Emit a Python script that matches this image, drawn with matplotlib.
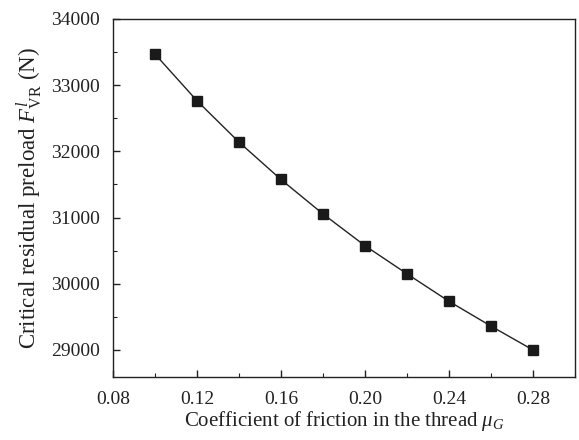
import matplotlib
matplotlib.use("Agg")
import matplotlib.pyplot as plt
from matplotlib.ticker import MultipleLocator

mu_g = [0.10, 0.12, 0.14, 0.16, 0.18, 0.20, 0.22, 0.24, 0.26, 0.28]
f_vr = [33470, 32765, 32140, 31575, 31055, 30575, 30150, 29735, 29360, 29000]
x_ticks = [0.08, 0.12, 0.16, 0.20, 0.24, 0.28]
x_tick_labels = ["0.08", "0.12", "0.16", "0.20", "0.24", "0.28"]
y_ticks = [29000, 30000, 31000, 32000, 33000, 34000]

plt.rcParams['font.family'] = ['Liberation Serif', 'DejaVu Serif']
plt.rcParams['mathtext.fontset'] = 'custom'
plt.rcParams['mathtext.rm'] = 'Liberation Serif'
plt.rcParams['mathtext.it'] = 'Liberation Serif:italic'

fig = plt.figure(figsize=(5.79, 4.40), dpi=100)
ax = fig.add_axes([0.195, 0.143, 0.798, 0.814])

ax.plot(mu_g, f_vr, color='#222222', linewidth=1.0, marker='s', markersize=6.8,
        markerfacecolor='#1a1a1a', markeredgecolor='#1a1a1a')

ax.set_xlim(0.08, 0.30)
ax.set_ylim(28590, 34000)
ax.set_xticks(x_ticks)
ax.set_xticklabels(x_tick_labels)
ax.set_yticks(y_ticks)
ax.xaxis.set_minor_locator(MultipleLocator(0.02))
ax.yaxis.set_minor_locator(MultipleLocator(500))
ax.tick_params(which='both', direction='in', top=False, right=False, labelsize=14, colors='#222222')
ax.tick_params(which='major', length=5, width=1)
ax.tick_params(which='minor', length=3, width=0.8)
ax.tick_params(axis='x', which='major', pad=10)
ax.tick_params(axis='y', which='major', pad=9.5)
for s in ax.spines.values():
    s.set_linewidth(1.0)
    s.set_color('#222222')

ax.set_xlabel(r"Coefficient of friction in the thread $\mu_G$", fontsize=15, color='#222222', labelpad=1)
ax.set_ylabel(r"Critical residual preload $F^{l}_{\mathrm{VR}}$ (N)", fontsize=16.5, color='#222222', labelpad=4)

fig.savefig("out.png", dpi=100)
